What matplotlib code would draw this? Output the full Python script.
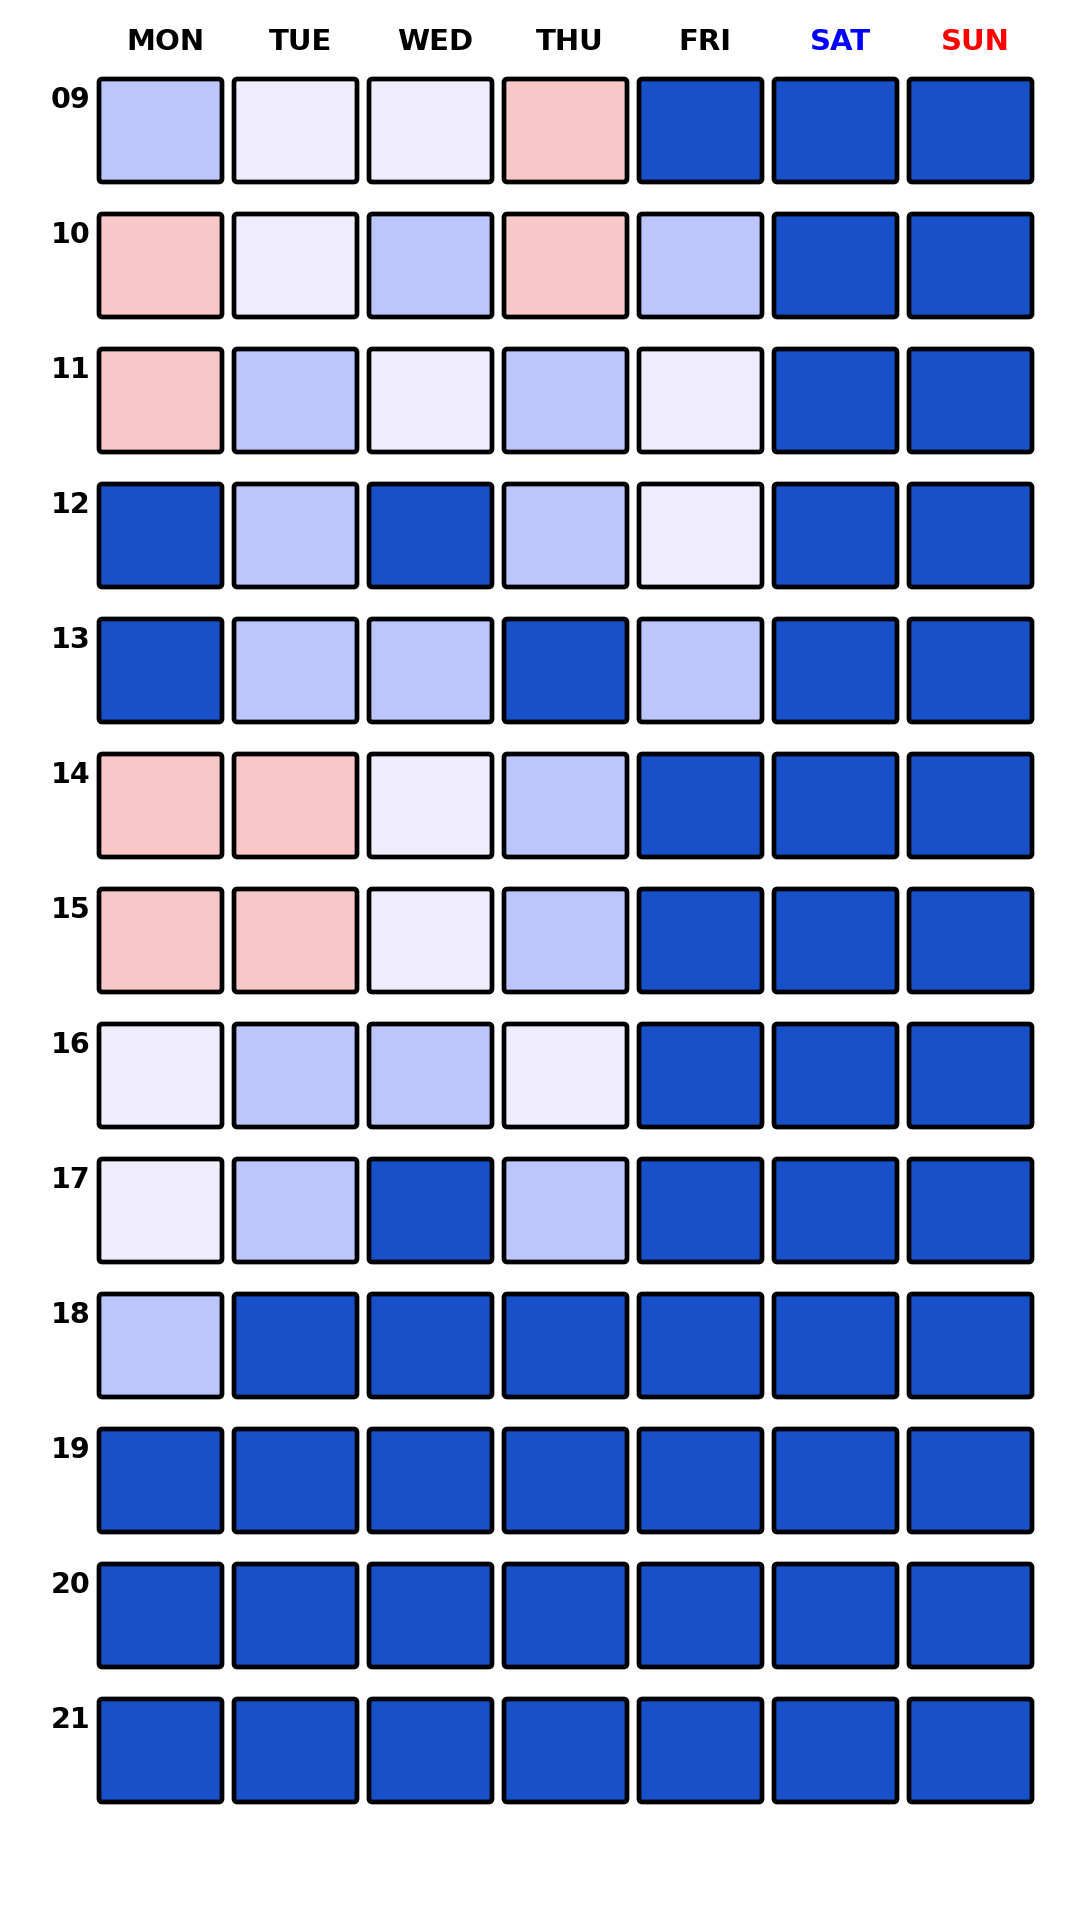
import matplotlib

matplotlib.use("Agg")
import matplotlib.pyplot as plt
import numpy as np
from matplotlib.patches import FancyBboxPatch

# --- data -------------------------------------------------------------------
DAYS = ["MON", "TUE", "WED", "THU", "FRI", "SAT", "SUN"]
DAY_COLORS = ["black", "black", "black", "black", "black", "blue", "red"]
HOURS = ["09", "10", "11", "12", "13", "14", "15", "16", "17", "18", "19", "20", "21"]

# level per cell: 0 = pink, 1 = lavender, 2 = light blue, 3 = dark blue
LEVELS = [
    [2, 1, 1, 0, 3, 3, 3],
    [0, 1, 2, 0, 2, 3, 3],
    [0, 2, 1, 2, 1, 3, 3],
    [3, 2, 3, 2, 1, 3, 3],
    [3, 2, 2, 3, 2, 3, 3],
    [0, 0, 1, 2, 3, 3, 3],
    [0, 0, 1, 2, 3, 3, 3],
    [1, 2, 2, 1, 3, 3, 3],
    [1, 2, 3, 2, 3, 3, 3],
    [2, 3, 3, 3, 3, 3, 3],
    [3, 3, 3, 3, 3, 3, 3],
    [3, 3, 3, 3, 3, 3, 3],
    [3, 3, 3, 3, 3, 3, 3],
]
LEVEL_COLORS = ["#F8C8C8", "#EFECFC", "#BCC5FC", "#1850C9"]

# --- layout -----------------------------------------------------------------
W, H = 1080, 1920
PITCH = 135.0
INSET_X = 6 / PITCH
INSET_Y = 16 / PITCH
CELL_W = 1 - 2 * INSET_X
CELL_H = 103 / PITCH

fig = plt.figure(figsize=(W / 100, H / 100), dpi=100)
left, top = 93, 63
ax = fig.add_axes([left / W, 1 - (top + len(HOURS) * PITCH) / H,
                   len(DAYS) * PITCH / W, len(HOURS) * PITCH / H])
ax.set_xlim(0, len(DAYS))
ax.set_ylim(len(HOURS), 0)
ax.axis("off")

levels = np.array(LEVELS)
for r in range(levels.shape[0]):
    for c in range(levels.shape[1]):
        ax.add_patch(FancyBboxPatch(
            (c + INSET_X, r + INSET_Y), CELL_W, CELL_H,
            boxstyle="round,pad=0,rounding_size=0.025",
            facecolor=LEVEL_COLORS[levels[r, c]], edgecolor="black",
            linewidth=3.4, joinstyle="round"))

for c, (day, col) in enumerate(zip(DAYS, DAY_COLORS)):
    ax.text(c + 0.535, -0.155, day, ha="center", va="center", fontsize=21,
            fontweight="bold", color=col, clip_on=False)

for r, hour in enumerate(HOURS):
    ax.text(-0.02, r + 0.17, hour, ha="right", va="top", fontsize=20.5,
            fontweight="bold", color="black", clip_on=False)

fig.savefig("out.png", dpi=100)
plt.close(fig)
